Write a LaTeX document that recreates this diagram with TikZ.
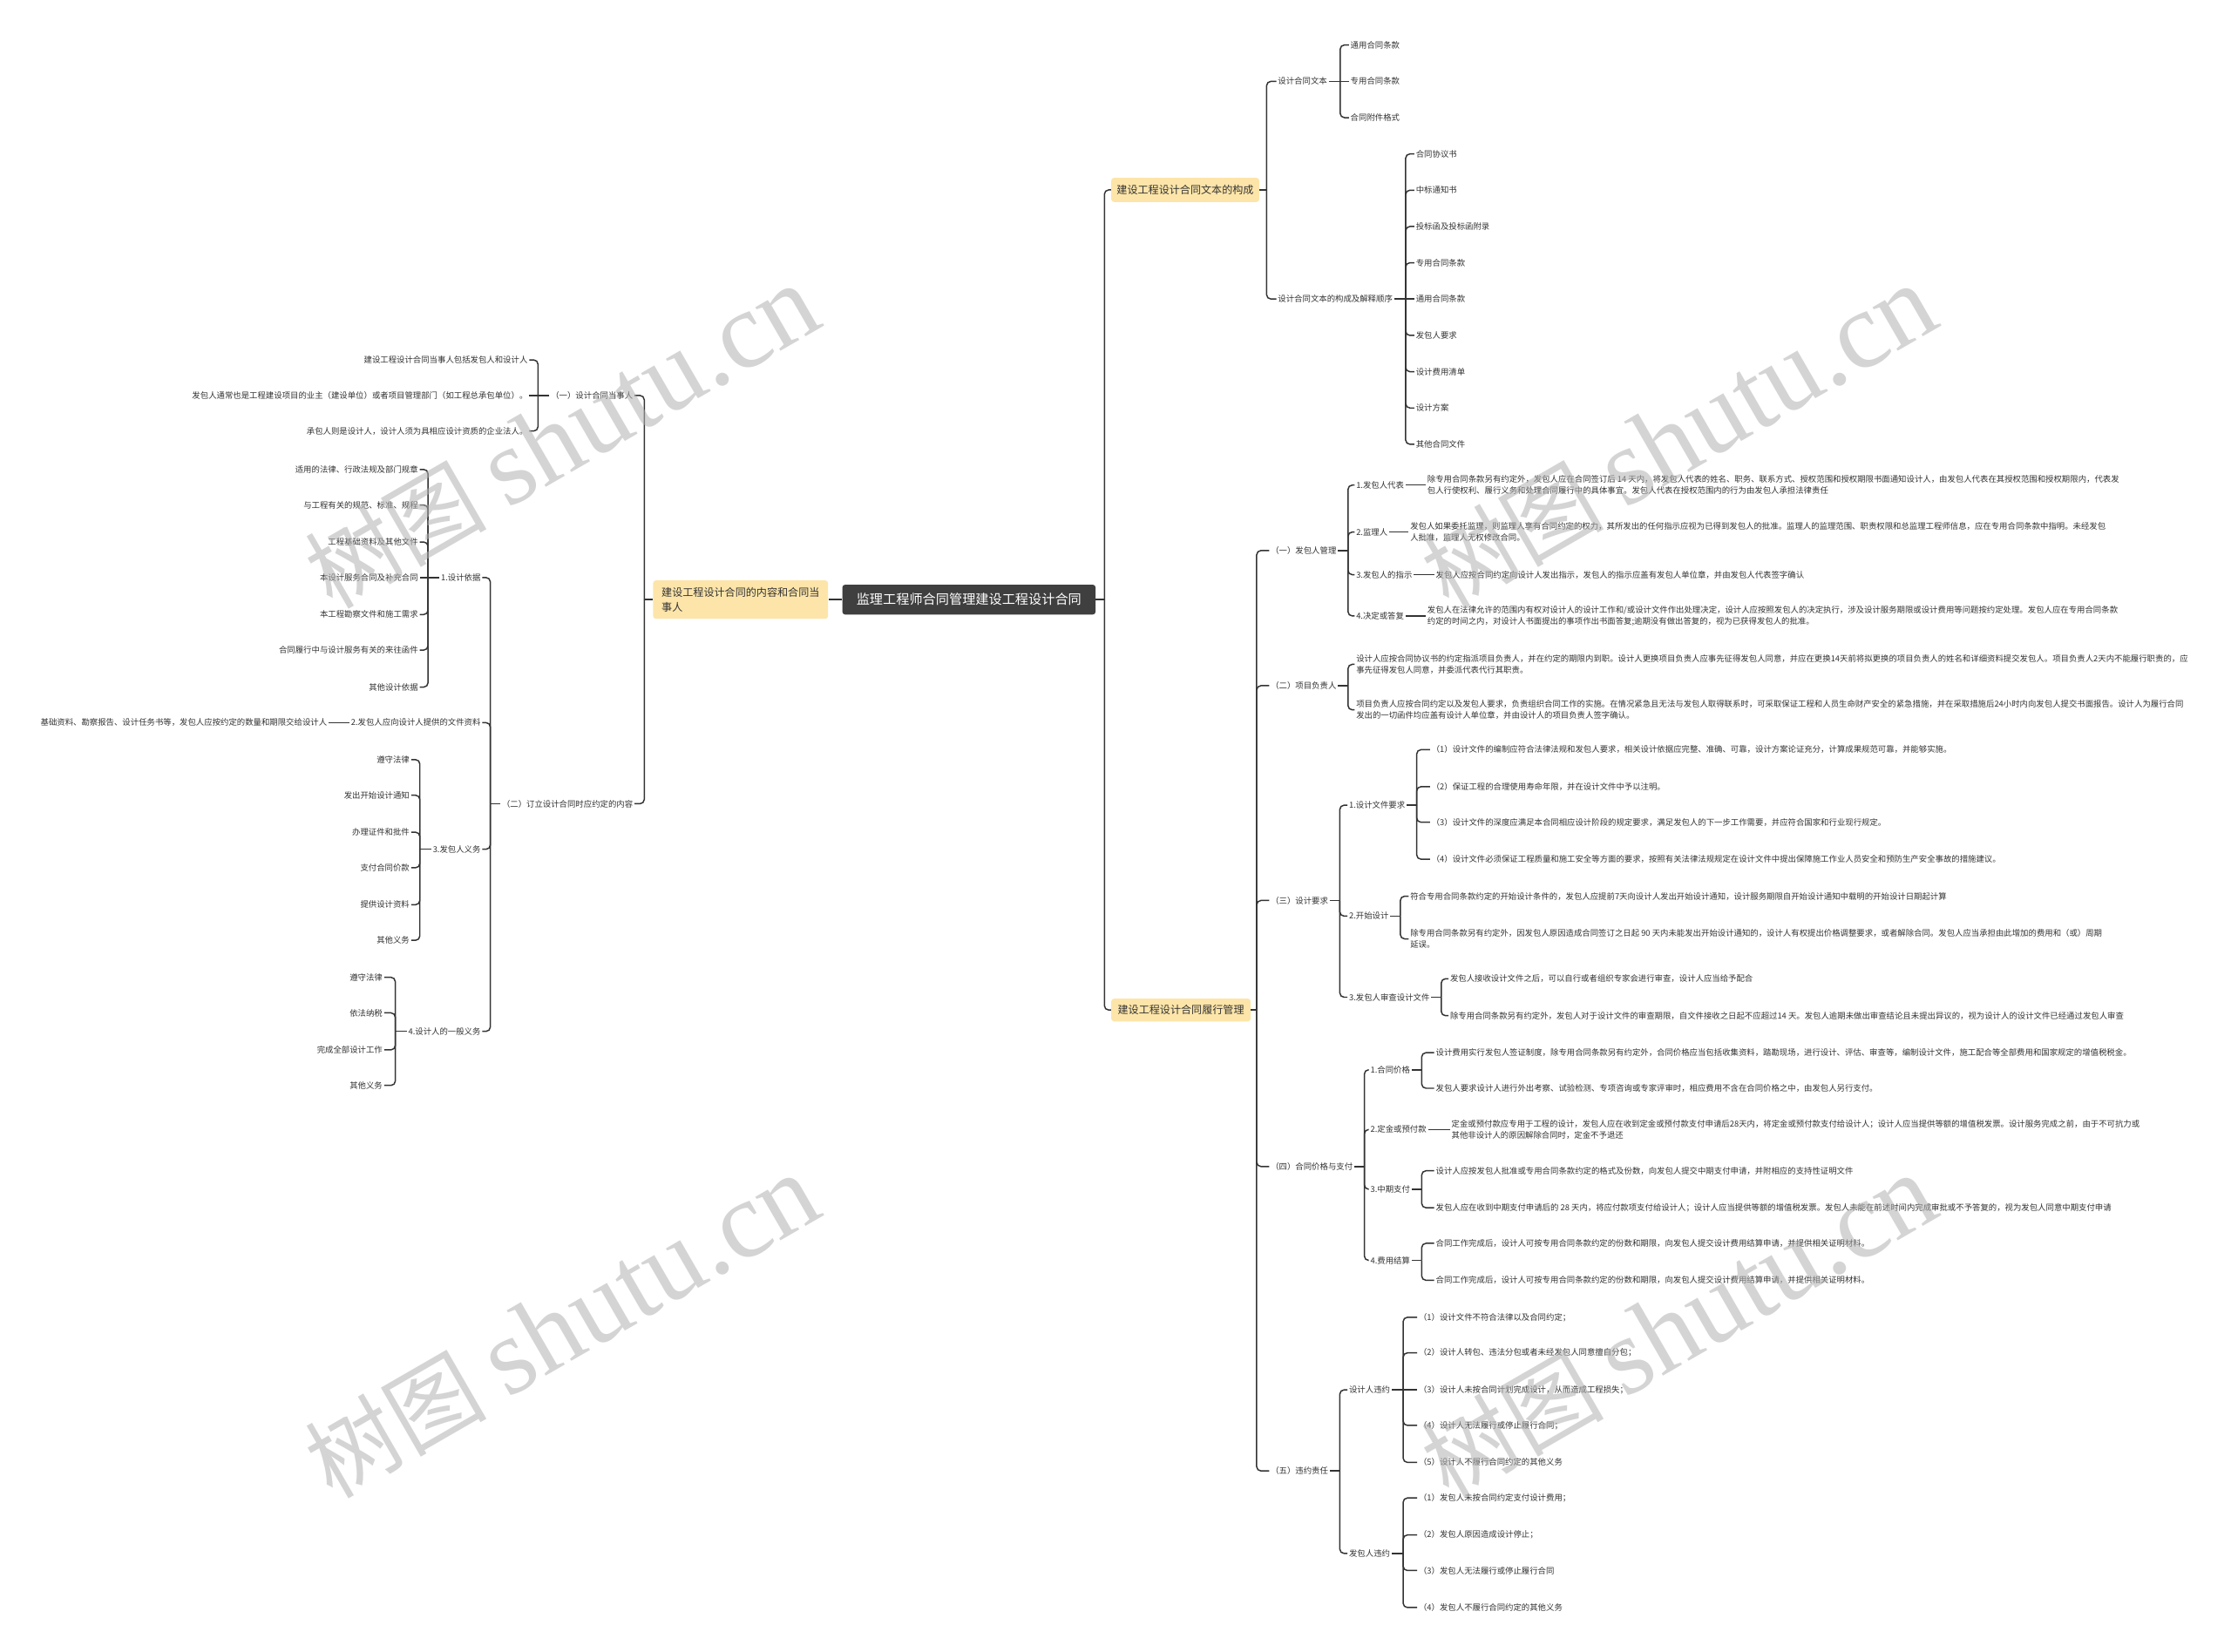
\documentclass[tikz,border=0pt]{standalone}
\usepackage{fontspec}
\setmainfont{Noto Sans CJK SC}
\newfontfamily\wmlat{Liberation Serif}
\definecolor{linec}{HTML}{333333}
\definecolor{textc}{HTML}{333333}
\definecolor{l1fill}{HTML}{FDE5A9}
\definecolor{rootfill}{HTML}{3F3F3F}
\newcommand\kidsR[3]{%
  \draw[conn] (#1.east) -- ++(#2,0);
  \foreach \kid in {#3}{\draw[conn,rounded corners=3pt] (#1.east) ++(#2,0) |- (\kid.west);}}
\newcommand\kidsL[3]{%
  \draw[conn] (#1.west) -- ++(-#2,0);
  \foreach \kid in {#3}{\draw[conn,rounded corners=3pt] (#1.west) ++(-#2,0) |- (\kid.east);}}
\begin{document}
\begin{tikzpicture}[x=1pt,y=-1pt,
  conn/.style={draw=linec, line width=0.9pt},
  tx/.style={font=\fontsize{5.75}{8}\selectfont, text=textc, inner sep=1pt, align=left},
  tR/.style={tx, anchor=west},
  tL/.style={tx, anchor=east, align=right},
  lone/.style={fill=l1fill, rounded corners=2pt, text=textc, font=\fontsize{7.4}{10.5}\selectfont, inner sep=2pt},
  rootn/.style={fill=rootfill, rounded corners=2pt, text=white, font=\fontsize{9.3}{11}\selectfont, inner sep=2pt},
  wm/.style={rotate=30, text=black!30, text opacity=0.55, font=\fontsize{64}{64}\selectfont, inner sep=0pt}
]
\useasboundingbox (0,0) rectangle (1568,1161);
\fill[white] (0,0) rectangle (1568,1161);

% root and level 1
\node[rootn, minimum width=178, minimum height=21] (root) at (681,421.5) {监理工程师合同管理建设工程设计合同};
\node[lone, minimum width=123, minimum height=27, align=left] (L) at (520.5,421.5) {建设工程设计合同的内容和合同当\\事人};
\node[lone, minimum width=104, minimum height=17] (A) at (833,133.5) {建设工程设计合同文本的构成};
\node[lone, minimum width=98, minimum height=16] (B) at (830,710) {建设工程设计合同履行管理};

\draw[conn] (root.west) -- (L.east);
\kidsR{root}{6}{A,B}

% ---------------- left side ----------------
\node[tL] (p1) at (446,278) {（一）设计合同当事人};
\node[tL] (p1a) at (372,253) {建设工程设计合同当事人包括发包人和设计人};
\node[tL] (p1b) at (372,278) {发包人通常也是工程建设项目的业主（建设单位）或者项目管理部门（如工程总承包单位）。};
\node[tL] (p1c) at (372,303) {承包人则是设计人，设计人须为具相应设计资质的企业法人。};
\kidsL{p1}{8}{p1a,p1c}
\draw[conn] (p1.west) -- (p1b.east);

\node[tL] (p2) at (446,565) {（二）订立设计合同时应约定的内容};
\node[tL] (q1) at (339,406) {1.设计依据};
\node[tL] (q1a) at (295,330) {适用的法律、行政法规及部门规章};
\node[tL] (q1b) at (295,355) {与工程有关的规范、标准、规程};
\node[tL] (q1c) at (295,381) {工程基础资料及其他文件};
\node[tL] (q1d) at (295,406) {本设计服务合同及补充合同};
\node[tL] (q1e) at (295,432) {本工程勘察文件和施工需求};
\node[tL] (q1f) at (295,457) {合同履行中与设计服务有关的来往函件};
\node[tL] (q1g) at (295,483) {其他设计依据};
\kidsL{q1}{8}{q1a,q1b,q1c,q1e,q1f,q1g}
\draw[conn] (q1.west) -- (q1d.east);

\node[tL] (q2) at (339,508) {2.发包人应向设计人提供的文件资料};
\node[tL] (q2a) at (231,508) {基础资料、勘察报告、设计任务书等，发包人应按约定的数量和期限交给设计人};
\draw[conn] (q2.west) -- (q2a.east);

\node[tL] (q3) at (339,597) {3.发包人义务};
\node[tL] (q3a) at (289,534) {遵守法律};
\node[tL] (q3b) at (289,559) {发出开始设计通知};
\node[tL] (q3c) at (289,585) {办理证件和批件};
\node[tL] (q3d) at (289,610) {支付合同价款};
\node[tL] (q3e) at (289,636) {提供设计资料};
\node[tL] (q3f) at (289,661) {其他义务};
\kidsL{q3}{8}{q3a,q3b,q3c,q3d,q3e,q3f}

\node[tL] (q4) at (339,725) {4.设计人的一般义务};
\node[tL] (q4a) at (270,687) {遵守法律};
\node[tL] (q4b) at (270,712) {依法纳税};
\node[tL] (q4c) at (270,738) {完成全部设计工作};
\node[tL] (q4d) at (270,763) {其他义务};
\kidsL{q4}{8}{q4a,q4b,q4c,q4d}

\kidsL{p2}{7}{q1,q2,q3,q4}
\kidsL{L}{6}{p1,p2}

% ---------------- right side: A ----------------
\node[tR] (a1) at (897,57.2) {设计合同文本};
\node[tR] (a1a) at (948,31.6) {通用合同条款};
\node[tR] (a1b) at (948,57.2) {专用合同条款};
\node[tR] (a1c) at (948,82.7) {合同附件格式};
\kidsR{a1}{8}{a1a,a1c}
\draw[conn] (a1.east) -- (a1b.west);

\node[tR] (a2) at (897,210.2) {设计合同文本的构成及解释顺序};
\node[tR] (a2a) at (994,108.2) {合同协议书};
\node[tR] (a2b) at (994,133.7) {中标通知书};
\node[tR] (a2c) at (994,159.2) {投标函及投标函附录};
\node[tR] (a2d) at (994,184.7) {专用合同条款};
\node[tR] (a2e) at (994,210.2) {通用合同条款};
\node[tR] (a2f) at (994,235.8) {发包人要求};
\node[tR] (a2g) at (994,261.3) {设计费用清单};
\node[tR] (a2h) at (994,286.8) {设计方案};
\node[tR] (a2i) at (994,312.3) {其他合同文件};
\kidsR{a2}{8}{a2a,a2b,a2c,a2d,a2f,a2g,a2h,a2i}
\draw[conn] (a2.east) -- (a2e.west);
\kidsR{A}{5}{a1,a2}

% ---------------- right side: B ----------------
\node[tR] (b1) at (892,387) {（一）发包人管理};
\node[tR] (b1a) at (952,341) {1.发包人代表};
\node[tR] (b1at) at (1002,341) {除专用合同条款另有约定外，发包人应在合同签订后 14 天内，将发包人代表的姓名、职务、联系方式、授权范围和授权期限书面通知设计人，由发包人代表在其授权范围和授权期限内，代表发\\包人行使权利、履行义务和处理合同履行中的具体事宜。发包人代表在授权范围内的行为由发包人承担法律责任};
\draw[conn] (b1a.east) -- (b1at.west);
\node[tR] (b1b) at (952,374) {2.监理人};
\node[tR] (b1bt) at (990,374) {发包人如果委托监理，则监理人享有合同约定的权力，其所发出的任何指示应视为已得到发包人的批准。监理人的监理范围、职责权限和总监理工程师信息，应在专用合同条款中指明。未经发包\\人批准，监理人无权修改合同。};
\draw[conn] (b1b.east) -- (b1bt.west);
\node[tR] (b1c) at (952,404) {3.发包人的指示};
\node[tR] (b1ct) at (1008,404) {发包人应按合同约定向设计人发出指示，发包人的指示应盖有发包人单位章，并由发包人代表签字确认};
\draw[conn] (b1c.east) -- (b1ct.west);
\node[tR] (b1d) at (952,433) {4.决定或答复};
\node[tR] (b1dt) at (1002,433) {发包人在法律允许的范围内有权对设计人的设计工作和/或设计文件作出处理决定，设计人应按照发包人的决定执行，涉及设计服务期限或设计费用等问题按约定处理。发包人应在专用合同条款\\约定的时间之内，对设计人书面提出的事项作出书面答复;逾期没有做出答复的，视为已获得发包人的批准。};
\draw[conn] (b1d.east) -- (b1dt.west);
\kidsR{b1}{7}{b1a,b1b,b1c,b1d}

\node[tR] (b2) at (892,482) {（二）项目负责人};
\node[tR] (b2a) at (952,467) {设计人应按合同协议书的约定指派项目负责人，并在约定的期限内到职。设计人更换项目负责人应事先征得发包人同意，并应在更换14天前将拟更换的项目负责人的姓名和详细资料提交发包人。项目负责人2天内不能履行职责的，应\\事先征得发包人同意，并委派代表代行其职责。};
\node[tR] (b2b) at (952,499) {项目负责人应按合同约定以及发包人要求，负责组织合同工作的实施。在情况紧急且无法与发包人取得联系时，可采取保证工程和人员生命财产安全的紧急措施，并在采取措施后24小时内向发包人提交书面报告。设计人为履行合同\\发出的一切函件均应盖有设计人单位章，并由设计人的项目负责人签字确认。};
\kidsR{b2}{7}{b2a,b2b}

\node[tR] (b3) at (892,633) {（三）设计要求};
\node[tR] (b3a) at (947,566) {1.设计文件要求};
\node[tR] (b3a1) at (1005,527) {（1）设计文件的编制应符合法律法规和发包人要求，相关设计依据应完整、准确、可靠，设计方案论证充分，计算成果规范可靠，并能够实施。};
\node[tR] (b3a2) at (1005,553) {（2）保证工程的合理使用寿命年限，并在设计文件中予以注明。};
\node[tR] (b3a3) at (1005,578) {（3）设计文件的深度应满足本合同相应设计阶段的规定要求，满足发包人的下一步工作需要，并应符合国家和行业现行规定。};
\node[tR] (b3a4) at (1005,604) {（4）设计文件必须保证工程质量和施工安全等方面的要求，按照有关法律法规规定在设计文件中提出保障施工作业人员安全和预防生产安全事故的措施建议。};
\kidsR{b3a}{7}{b3a1,b3a2,b3a3,b3a4}
\node[tR] (b3b) at (947,644) {2.开始设计};
\node[tR] (b3b1) at (990,630) {符合专用合同条款约定的开始设计条件的，发包人应提前7天向设计人发出开始设计通知，设计服务期限自开始设计通知中载明的开始设计日期起计算};
\node[tR] (b3b2) at (990,660) {除专用合同条款另有约定外，因发包人原因造成合同签订之日起 90 天内未能发出开始设计通知的，设计人有权提出价格调整要求，或者解除合同。发包人应当承担由此增加的费用和（或）周期\\延误。};
\kidsR{b3b}{7}{b3b1,b3b2}
\node[tR] (b3c) at (947,701) {3.发包人审查设计文件};
\node[tR] (b3c1) at (1018,688) {发包人接收设计文件之后，可以自行或者组织专家会进行审查，设计人应当给予配合};
\node[tR] (b3c2) at (1018,714) {除专用合同条款另有约定外，发包人对于设计文件的审查期限，自文件接收之日起不应超过14 天。发包人逾期未做出审查结论且未提出异议的，视为设计人的设计文件已经通过发包人审查};
\kidsR{b3c}{7}{b3c1,b3c2}
\kidsR{b3}{7}{b3a,b3b,b3c}

\node[tR] (b4) at (892,820) {（四）合同价格与支付};
\node[tR] (b4a) at (962,752) {1.合同价格};
\node[tR] (b4a1) at (1008,740) {设计费用实行发包人签证制度，除专用合同条款另有约定外，合同价格应当包括收集资料，踏勘现场，进行设计、评估、审查等，编制设计文件，施工配合等全部费用和国家规定的增值税税金。};
\node[tR] (b4a2) at (1008,765) {发包人要求设计人进行外出考察、试验检测、专项咨询或专家评审时，相应费用不含在合同价格之中，由发包人另行支付。};
\kidsR{b4a}{7}{b4a1,b4a2}
\node[tR] (b4b) at (962,794) {2.定金或预付款};
\node[tR] (b4bt) at (1019,794) {定金或预付款应专用于工程的设计，发包人应在收到定金或预付款支付申请后28天内，将定金或预付款支付给设计人；设计人应当提供等额的增值税发票。设计服务完成之前，由于不可抗力或\\其他非设计人的原因解除合同时，定金不予退还};
\draw[conn] (b4b.east) -- (b4bt.west);
\node[tR] (b4c) at (962,836) {3.中期支付};
\node[tR] (b4c1) at (1008,823) {设计人应按发包人批准或专用合同条款约定的格式及份数，向发包人提交中期支付申请，并附相应的支持性证明文件};
\node[tR] (b4c2) at (1008,849) {发包人应在收到中期支付申请后的 28 天内，将应付款项支付给设计人；设计人应当提供等额的增值税发票。发包人未能在前述时间内完成审批或不予答复的，视为发包人同意中期支付申请};
\kidsR{b4c}{7}{b4c1,b4c2}
\node[tR] (b4d) at (962,886) {4.费用结算};
\node[tR] (b4d1) at (1008,874) {合同工作完成后，设计人可按专用合同条款约定的份数和期限，向发包人提交设计费用结算申请，并提供相关证明材料。};
\node[tR] (b4d2) at (1008,900) {合同工作完成后，设计人可按专用合同条款约定的份数和期限，向发包人提交设计费用结算申请，并提供相关证明材料。};
\kidsR{b4d}{7}{b4d1,b4d2}
\kidsR{b4}{7}{b4a,b4b,b4c,b4d}

\node[tR] (b5) at (892,1034) {（五）违约责任};
\node[tR] (b5a) at (947,977) {设计人违约};
\node[tR] (b5a1) at (996,926) {（1）设计文件不符合法律以及合同约定；};
\node[tR] (b5a2) at (996,951) {（2）设计人转包、违法分包或者未经发包人同意擅自分包；};
\node[tR] (b5a3) at (996,977) {（3）设计人未按合同计划完成设计，从而造成工程损失；};
\node[tR] (b5a4) at (996,1002) {（4）设计人无法履行或停止履行合同；};
\node[tR] (b5a5) at (996,1028) {（5）设计人不履行合同约定的其他义务};
\kidsR{b5a}{8}{b5a1,b5a2,b5a4,b5a5}
\draw[conn] (b5a.east) -- (b5a3.west);
\node[tR] (b5b) at (947,1092) {发包人违约};
\node[tR] (b5b1) at (996,1053) {（1）发包人未按合同约定支付设计费用；};
\node[tR] (b5b2) at (996,1079) {（2）发包人原因造成设计停止；};
\node[tR] (b5b3) at (996,1104) {（3）发包人无法履行或停止履行合同};
\node[tR] (b5b4) at (996,1130) {（4）发包人不履行合同约定的其他义务};
\kidsR{b5b}{8}{b5b1,b5b2,b5b3,b5b4}
\kidsR{b5}{7}{b5a,b5b}

\kidsR{B}{4}{b1,b2,b3,b4,b5}

% ---------------- watermarks ----------------
\node[wm] (wm1) at (395,308) {树图 {\wmlat\fontsize{77}{77}\selectfont shutu.cn}};
\node[wm] (wm2) at (1180,308) {树图 {\wmlat\fontsize{77}{77}\selectfont shutu.cn}};
\node[wm] (wm3) at (395,933) {树图 {\wmlat\fontsize{77}{77}\selectfont shutu.cn}};
\node[wm] (wm4) at (1180,933) {树图 {\wmlat\fontsize{77}{77}\selectfont shutu.cn}};
\end{tikzpicture}
\end{document}
